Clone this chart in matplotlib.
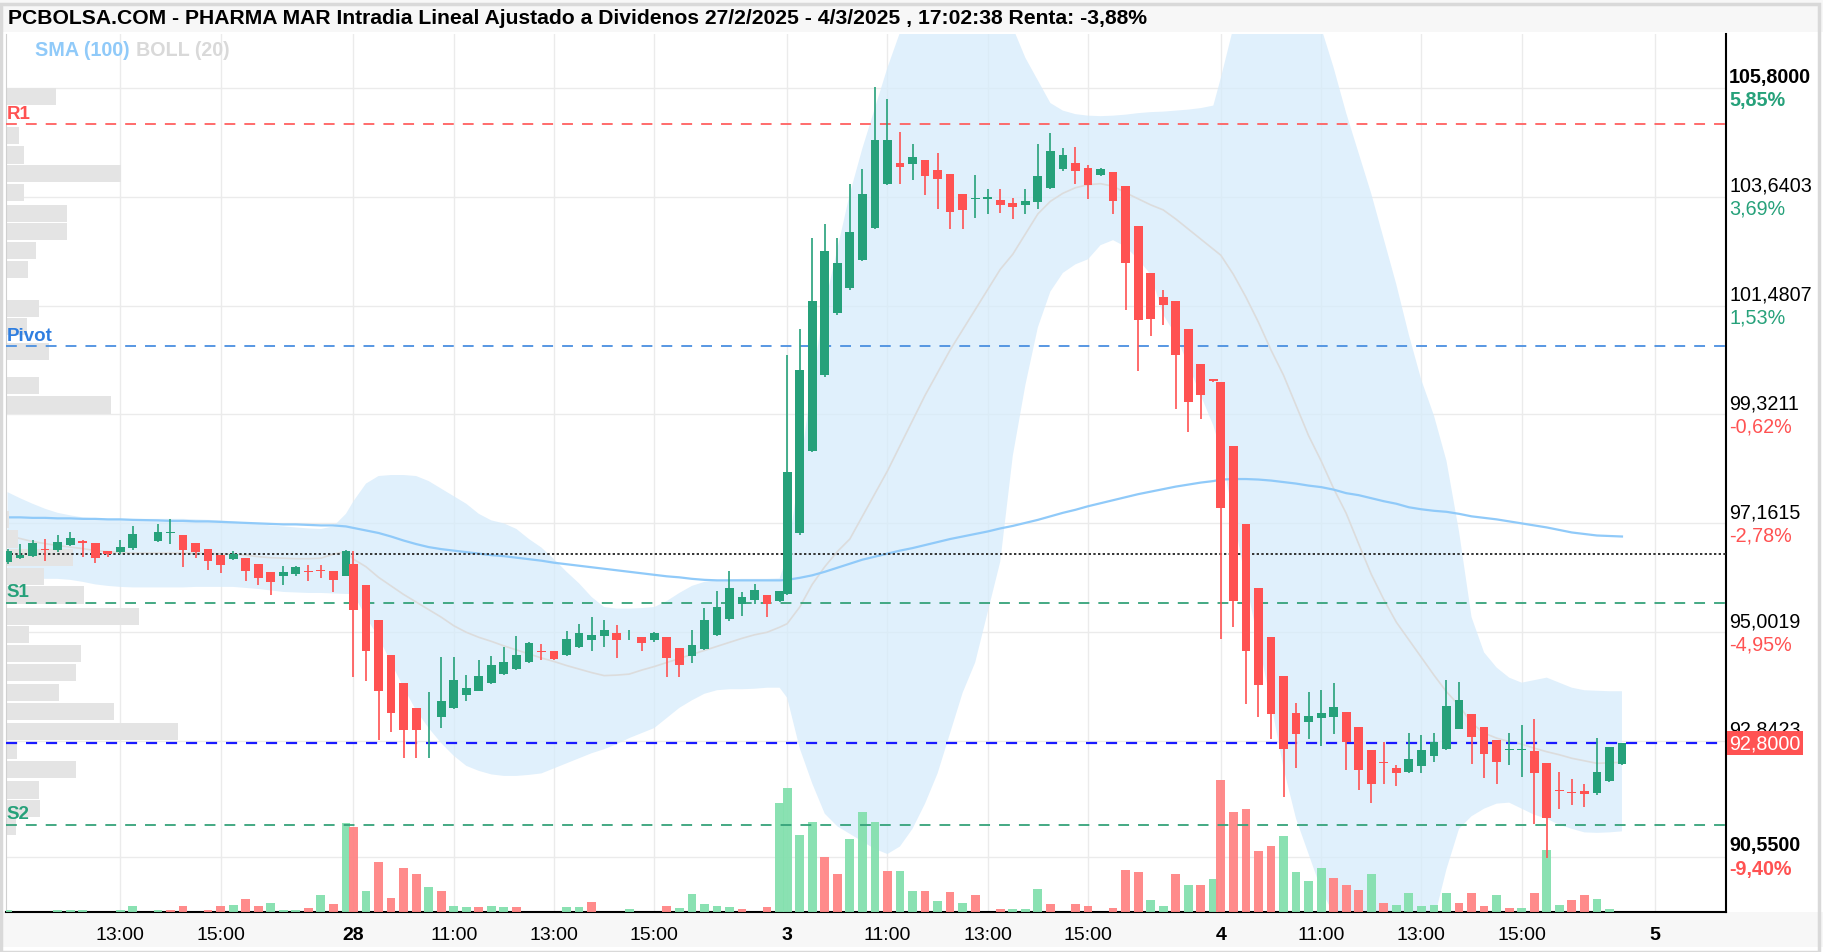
import matplotlib
matplotlib.use("Agg")
import matplotlib.pyplot as plt
from matplotlib.patches import Rectangle
from matplotlib import transforms

W, H = 1823, 953

# velas de 15 minutos: "dia HH:MM"
horas = (
    ["27 10:45", "27 11:00", "27 11:15", "27 11:30", "27 11:45", "27 12:00", "27 12:15", "27 12:30",
     "27 12:45", "27 13:00", "27 13:15", "27 13:45", "27 14:00", "27 14:15", "27 14:30", "27 14:45",
     "27 15:00", "27 15:15", "27 15:30", "27 15:45", "27 16:00", "27 16:15", "27 16:30", "27 16:45",
     "27 17:00", "27 17:15", "27 17:30"]
    + ["28 09:00", "28 09:15", "28 09:30", "28 09:45", "28 10:00", "28 10:15", "28 10:30", "28 10:45",
       "28 11:00", "28 11:15", "28 11:30", "28 11:45", "28 12:00", "28 12:15", "28 12:30", "28 12:45",
       "28 13:00", "28 13:15", "28 13:30", "28 13:45", "28 14:00", "28 14:15", "28 14:30", "28 14:45",
       "28 15:00", "28 15:15", "28 15:30", "28 15:45", "28 16:00", "28 16:15", "28 16:30", "28 16:45",
       "28 17:00", "28 17:15", "28 17:30"]
    + ["3 09:00", "3 09:15", "3 09:30", "3 09:45", "3 10:00", "3 10:15", "3 10:30", "3 10:45",
       "3 11:00", "3 11:15", "3 11:30", "3 11:45", "3 12:00", "3 12:15", "3 12:30", "3 12:45",
       "3 13:00", "3 13:15", "3 13:30", "3 13:45", "3 14:00", "3 14:15", "3 14:30", "3 14:45",
       "3 15:00", "3 15:15", "3 15:30", "3 15:45", "3 16:00", "3 16:15", "3 16:30", "3 16:45",
       "3 17:00", "3 17:15", "3 17:30"]
    + ["4 09:00", "4 09:15", "4 09:30", "4 09:45", "4 10:00", "4 10:15", "4 10:30", "4 10:45",
       "4 11:00", "4 11:15", "4 11:30", "4 11:45", "4 12:00", "4 12:15", "4 12:30", "4 12:45",
       "4 13:00", "4 13:15", "4 13:30", "4 13:45", "4 14:00", "4 14:15", "4 14:30", "4 14:45",
       "4 15:00", "4 15:15", "4 15:30", "4 15:45", "4 16:00", "4 16:15", "4 16:30", "4 16:45",
       "4 17:00"]
)

apertura = [
    96.39, 96.48, 96.52, 96.66, 96.63, 96.74, 96.82, 96.77, 96.62, 96.59, 96.67, 96.82, 96.96, 96.92,
    96.77, 96.65, 96.54, 96.45, 96.47, 96.36, 96.20, 96.12, 96.16, 96.21, 96.23, 96.21, 96.12,
    96.36, 95.93, 95.24, 94.55, 93.99, 93.50, 93.29, 93.31, 93.50, 93.76, 93.83, 93.99, 94.17, 94.28,
    94.42, 94.62, 94.62, 94.55, 94.70, 94.85, 94.93, 94.99, 94.86, 94.91, 94.85, 94.91, 94.69, 94.52,
    94.67, 94.95, 95.26, 95.56, 95.64, 95.73, 95.63,
    95.75, 96.96, 98.60, 100.10, 101.34, 101.84, 102.39, 103.03, 103.89, 104.32, 104.29, 104.37,
    104.17, 104.10, 103.69, 103.60, 103.60, 103.58, 103.52, 103.48, 103.53, 103.82, 104.19, 104.32,
    104.21, 104.08, 104.13, 103.85, 103.06, 102.12, 101.65, 101.57, 101.02, 100.32, 100.02,
    99.97, 98.69, 97.14, 95.87, 94.90, 94.13, 93.39, 93.22, 93.29, 93.32, 93.42, 93.12, 92.67, 92.42,
    92.30, 92.23, 92.35, 92.54, 92.68, 93.09, 93.38, 93.12, 92.86, 92.66, 92.66, 92.64, 92.41, 91.88,
    91.84, 91.86, 91.81, 92.04, 92.38]
maximo = [
    96.66, 96.75, 96.83, 96.85, 96.92, 96.99, 96.83, 96.78, 96.62, 96.84, 97.10, 97.14, 97.25, 96.92,
    96.77, 96.65, 96.54, 96.62, 96.47, 96.36, 96.20, 96.31, 96.32, 96.34, 96.34, 96.21, 96.63,
    96.62, 95.93, 95.24, 94.55, 93.99, 93.50, 93.82, 94.50, 94.50, 94.16, 94.45, 94.52, 94.71, 94.93,
    94.80, 94.76, 94.62, 95.02, 95.16, 95.31, 95.24, 95.14, 95.05, 94.91, 95.01, 94.91, 94.69, 95.05,
    95.49, 95.81, 96.21, 95.79, 95.95, 95.73, 95.81,
    100.50, 101.02, 102.82, 103.11, 102.82, 103.90, 104.19, 105.82, 105.58, 104.92, 104.69, 104.37,
    104.50, 104.10, 103.69, 104.08, 103.80, 103.80, 103.61, 103.80, 104.69, 104.90, 104.61, 104.63,
    104.28, 104.21, 104.13, 103.85, 103.06, 102.12, 101.79, 101.57, 101.02, 100.32, 100.02,
    99.97, 98.69, 97.14, 95.87, 94.90, 94.13, 93.59, 93.81, 93.86, 93.99, 93.42, 93.12, 92.67, 92.83,
    92.37, 93.01, 92.97, 93.01, 94.05, 94.02, 93.38, 93.12, 92.86, 93.01, 93.16, 93.28, 92.41, 92.23,
    92.08, 91.99, 92.91, 92.72, 92.80]
minimo = [
    96.36, 96.46, 96.49, 96.42, 96.60, 96.72, 96.49, 96.38, 96.49, 96.55, 96.63, 96.80, 96.75, 96.29,
    96.47, 96.24, 96.18, 96.44, 96.02, 95.93, 95.74, 95.94, 96.12, 96.01, 96.08, 95.79, 96.12,
    94.11, 94.03, 92.87, 93.03, 92.51, 92.51, 92.51, 93.10, 93.48, 93.63, 93.83, 93.97, 94.15, 94.26,
    94.40, 94.45, 94.44, 94.52, 94.68, 94.62, 94.70, 94.48, 94.85, 94.62, 94.81, 94.11, 94.11, 94.40,
    94.65, 94.93, 95.23, 95.33, 95.56, 95.30, 95.61,
    95.73, 96.93, 98.58, 100.07, 101.29, 101.79, 102.36, 103.00, 103.87, 103.89, 103.98, 103.68,
    103.40, 103.01, 103.01, 103.21, 103.29, 103.31, 103.19, 103.29, 103.40, 103.79, 104.16, 103.89,
    103.60, 104.06, 103.30, 101.39, 100.19, 100.87, 101.09, 99.43, 98.98, 99.24, 99.96,
    94.87, 95.10, 93.57, 93.31, 92.89, 91.74, 92.31, 92.89, 92.74, 92.99, 92.26, 91.88, 91.62, 91.99,
    91.95, 92.21, 92.21, 92.43, 92.66, 93.08, 92.39, 92.10, 91.98, 92.37, 92.13, 91.20, 90.53, 91.49,
    91.58, 91.54, 91.78, 92.02, 92.37]
cierre = [
    96.62, 96.53, 96.77, 96.64, 96.80, 96.88, 96.77, 96.47, 96.55, 96.69, 96.95, 96.98, 96.99, 96.63,
    96.60, 96.41, 96.34, 96.55, 96.22, 96.08, 96.00, 96.20, 96.29, 96.19, 96.22, 96.04, 96.62,
    95.45, 94.62, 93.84, 93.40, 93.06, 93.06, 93.30, 93.64, 94.05, 93.89, 94.13, 94.35, 94.42, 94.54,
    94.79, 94.60, 94.47, 94.87, 94.98, 94.95, 95.05, 94.85, 94.87, 94.78, 94.98, 94.48, 94.36, 94.75,
    95.24, 95.51, 95.87, 95.69, 95.84, 95.56, 95.81,
    98.18, 100.20, 101.57, 102.57, 102.32, 102.94, 103.69, 104.77, 104.77, 104.24, 104.43, 104.05,
    103.99, 103.34, 103.37, 103.62, 103.63, 103.48, 103.44, 103.55, 104.06, 104.54, 104.47, 104.16,
    103.88, 104.20, 103.56, 102.32, 101.20, 101.22, 101.50, 100.50, 99.56, 99.71, 99.98,
    97.46, 95.63, 94.63, 93.96, 93.37, 92.69, 92.99, 93.34, 93.39, 93.52, 92.82, 92.26, 91.99, 92.40,
    92.21, 92.48, 92.67, 92.82, 93.53, 93.65, 92.92, 92.58, 92.42, 92.69, 92.69, 92.20, 91.31, 91.86,
    91.82, 91.79, 92.23, 92.72, 92.80]

volumen = [
    2, 0, 0, 0, 2.5, 2.5, 2.5, 0, 0, 2.5, 5.7, 2.5, 2.5, 5.7, 0, 2.5, 5.7, 7.3, 13.3, 5.7, 9,
    2.5, 2.5, 4, 16.7, 8, 89,
    84.7, 21.3, 49.7, 13.7, 44, 38, 25.3, 21.3, 6.3, 4.7, 4.7, 6.3, 4.7, 4.7, 0, 0, 0, 4.7, 4.7,
    10.3, 0, 0, 3, 0, 0, 6.3, 3.7, 18, 8, 5.7, 4.7, 3, 0, 4.7, 109,
    123.6, 77.4, 90.2, 54.6, 37.6, 73.2, 99.7, 90.2, 41.3, 41.3, 21.1, 21.1, 11, 20, 9.4, 17.4, 0,
    3, 3, 3, 22.7, 7.8, 0, 7.8, 6, 0, 4, 41.9, 40.3, 12.5, 6.5, 38.3, 26.7, 26.7, 32.8,
    131.9, 100, 102.6, 61.1, 66.1, 75.7, 40.3, 30.7, 44.4, 34.3, 26.7, 21.6, 37.8, 9.2, 7.5, 19.4,
    5.8, 7.5, 19.4, 9.2, 18.7, 5.8, 16.7, 4, 4, 19.4, 61.9, 7.5, 11.6, 17, 13.3, 3, 0]
vol_sube = [
    1, 1, 1, 0, 1, 1, 1, 1, 1, 1, 1, 1, 0, 0, 0, 0, 0, 1, 0, 0, 1, 1, 1, 0, 1, 0, 1,
    0, 1, 0, 0, 0, 0, 1, 0, 1, 1, 0, 1, 1, 0, 1, 0, 0, 1, 1, 0, 1, 0, 1, 0, 1, 0, 1, 1, 1, 1, 1,
    0, 1, 0, 1,
    1, 1, 1, 0, 0, 1, 1, 1, 0, 1, 1, 0, 1, 0, 1, 0, 1, 0, 1, 1, 1, 0, 1, 0, 0, 1, 0, 0, 0, 1, 1,
    0, 1, 0, 1,
    0, 0, 0, 0, 0, 1, 1, 1, 1, 0, 0, 0, 1, 0, 1, 1, 1, 1, 1, 0, 0, 0, 1, 0, 1, 0, 1, 1, 0, 0, 1,
    1, 1]

boll_sup = [
    97.78, 97.66, 97.55, 97.45, 97.37, 97.32, 97.28, 97.26, 97.25, 97.25, 97.25, 97.25, 97.25, 97.25,
    97.24, 97.23, 97.22, 97.20, 97.18, 97.15, 97.12, 97.10, 97.08, 97.06, 97.05, 97.10, 97.35,
    97.60, 97.95, 98.10, 98.12, 98.12, 98.10, 98.00, 97.85, 97.70, 97.55, 97.35, 97.22, 97.16, 97.05,
    96.85, 96.68, 96.45, 96.20, 95.97, 95.70, 95.50, 95.47, 95.47, 95.48, 95.50, 95.62, 95.78, 95.92,
    96.00, 96.03, 96.05, 96.06, 96.06, 96.06, 96.07,
    96.50, 98.20, 100.00, 101.50, 102.60, 103.70, 104.60, 105.40, 106.20, 106.90, 107.40, 107.80,
    108.10, 108.20, 108.20, 108.20, 108.10, 107.80, 107.00, 106.40, 105.95, 105.50, 105.35, 105.28,
    105.25, 105.24, 105.25, 105.27, 105.30, 105.32, 105.33, 105.35, 105.37, 105.40, 105.45,
    106.00, 107.00, 107.80, 108.30, 108.50, 108.50, 108.20, 107.70, 107.00, 106.20, 105.30, 104.50,
    103.70, 102.80, 101.90, 100.90, 100.00, 99.30, 98.40, 97.00, 95.30, 94.60, 94.30, 94.10, 94.00,
    94.05, 94.10, 94.00, 93.90, 93.85, 93.84, 93.83, 93.83]
boll_med = [
    96.92, 96.86, 96.80, 96.76, 96.72, 96.69, 96.66, 96.62, 96.60, 96.58, 96.57, 96.57, 96.57, 96.57,
    96.57, 96.56, 96.56, 96.55, 96.53, 96.50, 96.48, 96.47, 96.46, 96.46, 96.47, 96.55, 96.60,
    96.45, 96.30, 96.09, 95.92, 95.75, 95.60, 95.45, 95.30, 95.13, 95.00, 94.90, 94.82, 94.73, 94.65,
    94.57, 94.49, 94.42, 94.34, 94.27, 94.20, 94.14, 94.15, 94.17, 94.25, 94.32, 94.40, 94.48, 94.56,
    94.64, 94.72, 94.80, 94.88, 94.95, 95.00, 95.10,
    95.17, 95.50, 95.95, 96.30, 96.60, 96.85, 97.30, 97.75, 98.20, 98.70, 99.20, 99.70, 100.15,
    100.60, 101.00, 101.40, 101.80, 102.20, 102.50, 102.90, 103.30, 103.55, 103.71, 103.82, 103.88,
    103.90, 103.85, 103.72, 103.60, 103.48, 103.38, 103.20, 103.00, 102.80, 102.60,
    102.48, 102.10, 101.65, 101.15, 100.60, 100.10, 99.50, 98.90, 98.40, 97.85, 97.36, 96.75, 96.15,
    95.65, 95.20, 94.85, 94.50, 94.15, 93.82, 93.55, 93.20, 93.00, 92.90, 92.83, 92.78, 92.70, 92.63,
    92.57, 92.50, 92.45, 92.40, 92.41, 92.42]
boll_inf = [
    96.05, 96.05, 96.06, 96.06, 96.06, 96.04, 96.00, 95.95, 95.92, 95.90, 95.89, 95.89, 95.89, 95.89,
    95.90, 95.90, 95.90, 95.90, 95.88, 95.86, 95.83, 95.80, 95.79, 95.78, 95.78, 95.77, 95.76,
    95.76, 95.30, 94.90, 94.40, 93.90, 93.45, 93.10, 92.80, 92.55, 92.35, 92.25, 92.18, 92.15, 92.15,
    92.17, 92.20, 92.30, 92.40, 92.50, 92.60, 92.68, 92.78, 92.90, 93.00, 93.10, 93.30, 93.50, 93.65,
    93.78, 93.85, 93.87, 93.87, 93.88, 93.90, 93.90,
    93.70, 92.70, 92.00, 91.40, 91.15, 91.00, 90.85, 90.70, 90.60, 90.75, 91.10, 91.60, 92.20, 93.00,
    93.80, 94.40, 95.40, 96.40, 98.50, 99.90, 101.05, 101.76, 102.13, 102.30, 102.40, 102.68,
    102.78, 102.65, 102.40, 102.10, 101.30, 100.90, 100.30, 99.70, 99.10,
    98.60, 97.30, 96.00, 94.80, 93.60, 92.30, 91.30, 90.60, 89.90, 89.40, 89.00, 88.60, 88.30, 88.10,
    88.00, 88.20, 88.60, 89.30, 90.30, 91.10, 91.35, 91.50, 91.60, 91.62, 91.50, 91.38, 91.30, 91.18,
    91.10, 91.03, 91.02, 91.03, 91.05]
sma100 = [
    97.28, 97.28, 97.27, 97.27, 97.26, 97.26, 97.25, 97.25, 97.24, 97.24, 97.23, 97.22, 97.21, 97.21,
    97.20, 97.20, 97.19, 97.18, 97.17, 97.16, 97.15, 97.14, 97.14, 97.13, 97.12, 97.12, 97.10,
    97.07, 97.02, 96.97, 96.90, 96.82, 96.75, 96.69, 96.65, 96.62, 96.59, 96.56, 96.53, 96.51, 96.48,
    96.45, 96.42, 96.38, 96.35, 96.32, 96.29, 96.26, 96.23, 96.20, 96.17, 96.14, 96.11, 96.09, 96.06,
    96.04, 96.03, 96.03, 96.03, 96.03, 96.03, 96.03,
    96.04, 96.08, 96.13, 96.20, 96.28, 96.36, 96.44, 96.50, 96.56, 96.62, 96.67, 96.73, 96.79, 96.85,
    96.90, 96.95, 97.00, 97.06, 97.11, 97.17, 97.23, 97.30, 97.37, 97.43, 97.50, 97.56, 97.62, 97.68,
    97.74, 97.79, 97.84, 97.89, 97.93, 97.97, 98.00,
    98.03, 98.04, 98.04, 98.03, 98.01, 97.98, 97.95, 97.91, 97.88, 97.83, 97.76, 97.72, 97.66, 97.60,
    97.55, 97.48, 97.44, 97.41, 97.39, 97.35, 97.30, 97.27, 97.24, 97.20, 97.16, 97.12, 97.08, 97.03,
    96.98, 96.95, 96.92, 96.91, 96.90]

# perfil de volumen por precio (izquierda)
perfil_precio = [105.63, 104.85, 104.47, 104.10, 103.72, 103.31, 102.95, 102.57, 102.20, 101.43,
                 101.06, 100.57, 99.89, 99.51, 97.23, 96.85, 96.48, 96.10, 95.74, 95.32, 94.95,
                 94.58, 94.20, 93.80, 93.42, 93.03, 92.65, 92.27, 91.87, 91.51, 91.14]
perfil_vol = [50, 13, 18, 115, 18, 61, 61, 30, 22, 33, 21, 43, 33, 105, 3, 12, 67, 38, 78, 133,
              23, 75, 70, 53, 108, 172, 11, 70, 33, 34, 10]

# niveles
r1, pivot, s1, s2 = 105.076, 100.67, 95.58, 91.18
referencia = 96.545
ultimo = 92.80

precios_eje = [105.8, 103.6403, 101.4807, 99.3211, 97.1615, 95.0019, 92.8423, 90.55]
pct_eje = ["5,85%", "3,69%", "1,53%", "-0,62%", "-2,78%", "-4,95%", "-7,11%", "-9,40%"]

ticks_tiempo = ["27 13:00", "27 15:00", "28 09:00", "28 11:00", "28 13:00", "28 15:00", "3 09:00",
                "3 11:00", "3 13:00", "3 15:00", "4 09:00", "4 11:00", "4 13:00", "4 15:00", "5 09:00"]
ticks_texto = ["13:00", "15:00", "28", "11:00", "13:00", "15:00", "3", "11:00", "13:00", "15:00",
               "4", "11:00", "13:00", "15:00", "5"]

titulo_txt = ("PCBOLSA.COM - PHARMA MAR Intradia Lineal Ajustado a Dividenos 27/2/2025 - 4/3/2025 , "
              "17:02:38 Renta: -3,88%")

VERDE = "#26a17a"
ROJO = "#ff5252"
VOL_VERDE = "#84e0ae"
VOL_ROJO = "#ff8585"
FUENTE = "Liberation Sans"

pos_dia = {"27": -34.6, "28": 0.0, "3": 34.6, "4": 69.2, "5": 103.8}


def xpos(t):
    d, hm = t.split()
    hh, mm = hm.split(":")
    return pos_dia[d] + (int(hh) * 60 + int(mm) - 540) / 15.0


xs = [xpos(t) for t in horas]

fig = plt.figure(figsize=(W / 100, H / 100), dpi=100)
fig.patch.set_facecolor("white")

# bandas de fondo (titulo y eje de tiempo)
fig.add_artist(Rectangle((0, 1 - 33 / H), 1, 33 / H, transform=fig.transFigure,
                         fc="#f7f7f7", ec="none", zorder=0))
fig.add_artist(Rectangle((0, 1 - 948 / H), 1, 35 / H, transform=fig.transFigure,
                         fc="#f7f7f7", ec="none", zorder=0))

L, R, T, B = 6, 1726, 35, 913
ax = fig.add_axes([L / W, 1 - B / H, (R - L) / W, (B - T) / H])
ax.set_xlim(-27.72, 109.5)
ax.set_ylim(89.45, 106.87)
ax.set_facecolor("white")

# rejilla
ax.set_yticks(precios_eje)
ax.set_xticks([xpos(t) for t in ticks_tiempo])
ax.grid(True, color="#ebebeb", lw=1, zorder=0)
ax.set_axisbelow(True)
ax.tick_params(left=False, labelleft=False, bottom=False, length=0)
ax.set_xticklabels(ticks_texto, fontsize=14, family=FUENTE)
for lab, txt in zip(ax.get_xticklabels(), ticks_texto):
    if ":" not in txt:
        lab.set_fontweight("bold")
ax.tick_params(axis="x", pad=10)

ax.spines["top"].set_visible(False)
ax.spines["left"].set_color("#d0d0d0")
ax.spines["bottom"].set_color("black")
ax.spines["bottom"].set_linewidth(1.5)
ax.spines["right"].set_color("black")
ax.spines["right"].set_linewidth(1.5)

# bollinger y media
ax.fill_between(xs, boll_inf, boll_sup, color="#d6ebfb", alpha=0.75, lw=0, zorder=1)
ax.plot(xs, boll_med, color="#dcdcdc", lw=1.2, zorder=2)
ax.plot(xs, sma100, color="#90caf9", lw=1.6, zorder=2)

# perfil de volumen
tr_perfil = transforms.blended_transform_factory(ax.transAxes, ax.transData)
ax.barh(perfil_precio, [v / (R - L) for v in perfil_vol], height=0.34, left=0,
        color="#e4e4e4", lw=0, transform=tr_perfil, zorder=2.5)

# volumen abajo
tr_vol = transforms.blended_transform_factory(ax.transData, ax.transAxes)
ax.bar(xs, [v / (B - T) for v in volumen], width=0.7, bottom=0,
       color=[VOL_VERDE if s else VOL_ROJO for s in vol_sube], lw=0, alpha=0.95,
       transform=tr_vol, zorder=2.8)

# niveles horizontales
ax.axhline(r1, color="#ff6060", lw=1.3, dashes=(6, 5), zorder=3)
ax.axhline(pivot, color="#4a8fe0", lw=1.3, dashes=(6, 5), zorder=3)
ax.axhline(s1, color="#35a27a", lw=1.3, dashes=(6, 5), zorder=3)
ax.axhline(s2, color="#35a27a", lw=1.3, dashes=(6, 5), zorder=3)
ax.axhline(referencia, color="#333333", lw=1.4, dashes=(1.2, 1.2), zorder=3)
ax.axhline(ultimo, color="#1a1aff", lw=1.6, dashes=(5, 4), zorder=3)

tr_niv = transforms.offset_copy(transforms.blended_transform_factory(ax.transAxes, ax.transData),
                                fig=fig, x=0, y=2, units="points")
for val, txt, col in [(r1, "R1", "#ff5252"), (pivot, "Pivot", "#2f7ee0"),
                      (s1, "S1", "#26a17a"), (s2, "S2", "#26a17a")]:
    ax.text(0.0005, val, txt, transform=tr_niv, color=col, fontsize=13.5, fontweight="bold",
            family=FUENTE, va="bottom", ha="left", zorder=7)

# velas
for x, o, h, l, c in zip(xs, apertura, maximo, minimo, cierre):
    col = VERDE if c >= o else ROJO
    ax.vlines(x, l, h, color=col, lw=1.2, zorder=5)
    ax.bar(x, max(abs(c - o), 0.015), bottom=min(o, c), width=0.7, color=col, lw=0, zorder=6)

# etiquetas de precio a la derecha
tr_der = transforms.blended_transform_factory(ax.transAxes, ax.transData)
xt = 1 + 3 / (R - L)
for i, (p, pc) in enumerate(zip(precios_eje, pct_eje)):
    peso = "bold" if i in (0, len(precios_eje) - 1) else "normal"
    ax.text(xt, p, f"{p:.4f}".replace(".", ","), transform=transforms.offset_copy(
        tr_der, fig=fig, y=1.5, units="points"), fontsize=14.2, family=FUENTE, fontweight=peso,
        color="black", va="bottom", ha="left", clip_on=False)
    if abs(p - ultimo) < 0.3:
        continue  # queda tapado por la caja del ultimo precio
    ax.text(xt, p, pc, transform=transforms.offset_copy(tr_der, fig=fig, y=-1.5, units="points"),
            fontsize=14.2, family=FUENTE, fontweight=peso,
            color=VERDE if not pc.startswith("-") else ROJO, va="top", ha="left", clip_on=False)

ax.text(xt, ultimo, f"{ultimo:.4f}".replace(".", ","), transform=tr_der, fontsize=14.2,
        family=FUENTE, color="white", va="center", ha="left", clip_on=False, zorder=10,
        bbox=dict(boxstyle="square,pad=0.12", fc=ROJO, ec="none"))

# leyenda de indicadores
t1 = fig.text(35 / W, 1 - 50 / H, "SMA (100)", color="#90caf9", fontsize=14.2,
              fontweight="bold", family=FUENTE, va="center", ha="left")
# titulo
titulo = fig.text(8 / W, 1 - 18 / H, titulo_txt, fontsize=16, fontweight="bold",
                  family=["Liberation Sans Narrow", "Liberation Sans"], va="center", ha="left")

fig.canvas.draw()
rend = fig.canvas.get_renderer()
bb = titulo.get_window_extent(rend)
titulo.set_fontsize(16 * 1143 / bb.width)
bb1 = t1.get_window_extent(rend)
fig.text((bb1.x1 + 6) / W, 1 - 50 / H, "BOLL (20)", color="#d9d9d9", fontsize=14.2,
         fontweight="bold", family=FUENTE, va="center", ha="left")

# marco exterior
fig.add_artist(Rectangle((0.5 / W, 0.5 / H), 1 - 5 / W, 1 - 5 / H, transform=fig.transFigure,
                         fc="none", ec="#d9d9d9", lw=2.5, zorder=20))

fig.savefig("out.png", dpi=100)
